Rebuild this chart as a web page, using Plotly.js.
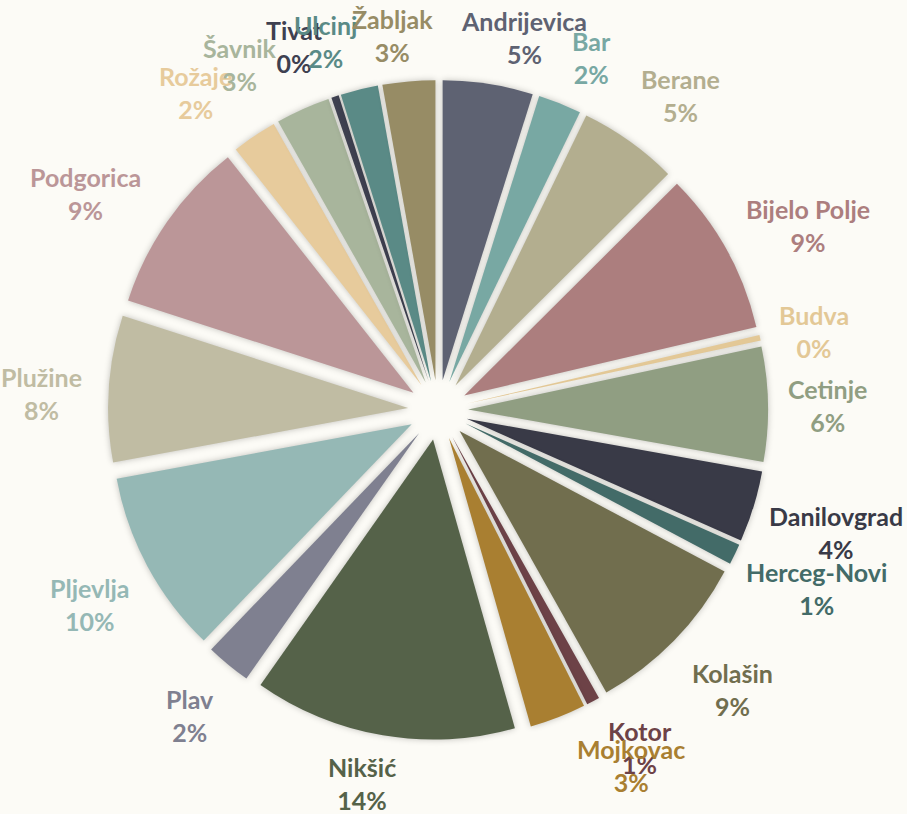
<!DOCTYPE html>
<html><head><meta charset="utf-8">
<script src="https://cdn.plot.ly/plotly-3.0.1.min.js"></script>
<style>
html,body{margin:0;padding:0;background:#fcfbf6;}
#chart{width:907px;height:814px;}
.slice path.surface{filter:drop-shadow(0 0 3px rgba(0,0,0,0.24));}
</style></head><body>
<div id="chart"></div>
<script>
var municipalities = ["Andrijevica","Bar","Berane","Bijelo Polje","Budva","Cetinje","Danilovgrad","Herceg-Novi","Kolašin","Kotor","Mojkovac","Nikšić","Plav","Pljevlja","Plužine","Podgorica","Rožaje","Šavnik","Tivat","Ulcinj","Žabljak"];
var values = [4.8,2.3,5.3,8.7,0.3,6.1,3.8,1.1,9.0,0.7,3.0,14.0,2.4,9.8,7.8,9.3,2.4,2.9,0.4,2.0,2.8];
var colors = ["#5e6272","#78a8a3","#b3ae8f","#ac7e7e","#e3c896","#909e82","#393a47","#436b68","#716e4e","#6d4247","#a97f31","#556249","#7f8090","#95b8b5","#c0bca3","#bb9698","#e7cb9c","#a8b59c","#3e4050","#5a8a86","#978c65"];

// label placement nudges in pixels [dx, dy] (layout only)
var labelNudge = [[23,2],[17,0],[16,-6],[10,-1],[0,4],[0,2],[-1,12],[0,13],[15,15],[23,3],[46,2],[-12,0],[-10,13],[-5,15],[-7,8],[-20,0],[-27,-3],[-40,0],[-26,-3],[-21,-1],[-11,3]];

var W = 907, H = 814;
var dom = {x:[0.119,0.847], y:[0.0909,0.9017]};
var cx = (dom.x[0]+dom.x[1])/2*W, cy = (1-(dom.y[0]+dom.y[1])/2)*H;
var outerR = (dom.y[1]-dom.y[0])*H/2;
var FONT = 'Lato, "Open Sans", sans-serif', FS = 25;

var total = values.reduce(function(a,b){return a+b;},0);
var cv = document.createElement('canvas').getContext('2d');
cv.font = 'bold '+FS+'px Lato';
var annotations = [], cum = 0;
values.forEach(function(v,i){
  var mid = (cum + v/2)/total*2*Math.PI; cum += v;
  var pct = Math.round(v/total*100)+'%';
  var w = Math.max(cv.measureText(municipalities[i]).width, cv.measureText(pct).width);
  var h = 58;
  var s = Math.sin(mid), c = Math.cos(mid);
  var Rp = outerR + 20;
  var px = cx + Rp*s + s*w/2 + labelNudge[i][0], py = cy - Rp*c - c*h/2 + labelNudge[i][1];
  annotations.push({x:px/W, y:1-py/H, xref:'paper', yref:'paper', xanchor:'center', yanchor:'middle',
    text:municipalities[i]+'<br>'+pct, showarrow:false, align:'center',
    font:{family:FONT, size:FS, color:colors[i], weight:'bold'}});
});

var trace = {
  type:'pie', labels:municipalities, values:values, sort:false, direction:'clockwise', rotation:0,
  marker:{colors:colors, line:{width:0}},
  pull: municipalities.map(function(){return 0.1;}),
  textinfo:'none', hoverinfo:'label+percent', showlegend:false,
  domain:dom
};
Plotly.newPlot('chart',[trace],{
  width:W,height:H,margin:{l:0,r:0,t:0,b:0},
  paper_bgcolor:'#fcfbf6', plot_bgcolor:'#fcfbf6', showlegend:false,
  annotations:annotations
},{displayModeBar:false,staticPlot:true});
</script></body></html>
